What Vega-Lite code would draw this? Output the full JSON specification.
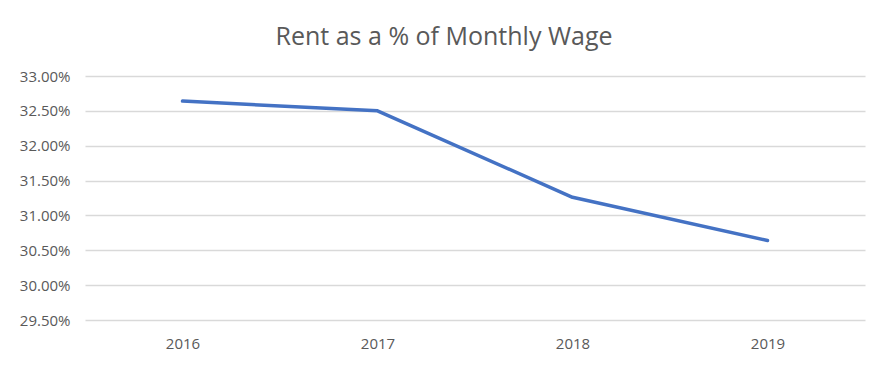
{
  "$schema": "https://vega.github.io/schema/vega-lite/v6.json",
  "width": 780,
  "height": 244,
  "autosize": "none",
  "padding": {"left": 85, "top": 76, "right": 24, "bottom": 49},
  "background": "white",
  "title": {
    "text": "Rent as a % of Monthly Wage",
    "font": "Open Sans",
    "fontSize": 25,
    "fontWeight": "normal",
    "color": "#595959",
    "anchor": "middle",
    "dx": -31,
    "offset": 19
  },
  "data": {
    "values": [
      {"year": "2016", "rent_pct": 0.3264},
      {"year": "2017", "rent_pct": 0.3250},
      {"year": "2018", "rent_pct": 0.3126},
      {"year": "2019", "rent_pct": 0.3064}
    ]
  },
  "mark": {"type": "line", "color": "#4472C4", "strokeWidth": 3.5, "strokeCap": "round", "strokeJoin": "round"},
  "encoding": {
    "x": {
      "field": "year",
      "type": "ordinal",
      "scale": {"type": "point", "padding": 0.5},
      "axis": {
        "title": null,
        "labelAngle": 0,
        "domain": false,
        "ticks": false,
        "grid": false,
        "labelFont": "Open Sans",
        "labelFontSize": 15,
        "labelColor": "#595959",
        "labelPadding": 16
      }
    },
    "y": {
      "field": "rent_pct",
      "type": "quantitative",
      "scale": {"domain": [0.295, 0.33], "zero": false, "nice": false},
      "axis": {
        "title": null,
        "values": [0.295, 0.30, 0.305, 0.31, 0.315, 0.32, 0.325, 0.33],
        "format": ".2%",
        "domain": false,
        "ticks": false,
        "gridColor": "#d9d9d9",
        "gridWidth": 1.5,
        "labelFont": "Open Sans",
        "labelFontSize": 15,
        "labelColor": "#595959",
        "labelPadding": 15
      }
    }
  },
  "config": {"view": {"stroke": null}}
}
